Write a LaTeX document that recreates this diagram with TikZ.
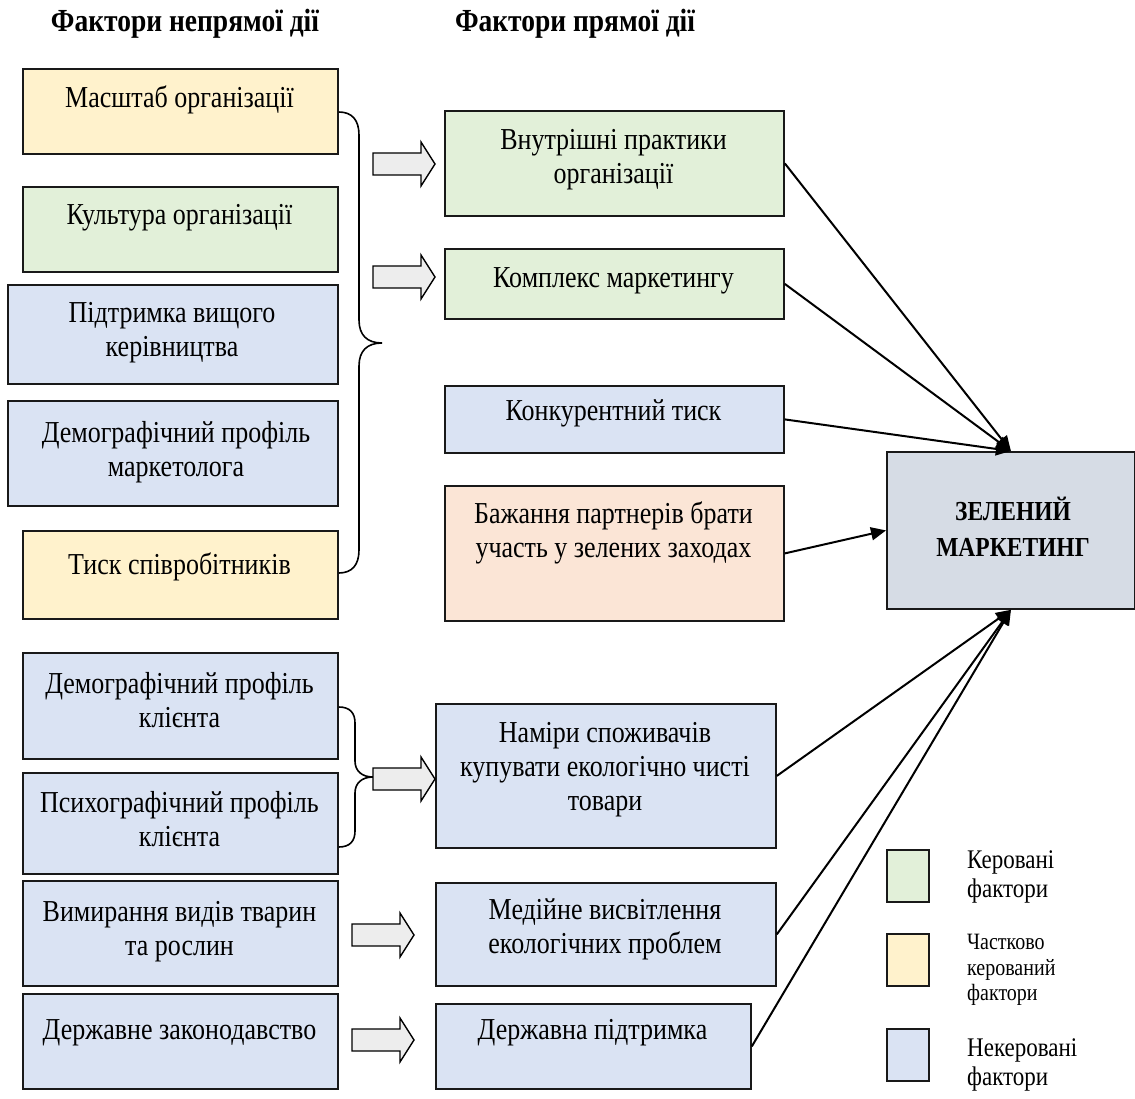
\documentclass[tikz,border=0pt]{standalone}
\usepackage{fontspec}
\usepackage{graphicx}
\setmainfont{Liberation Serif}
\usetikzlibrary{arrows.meta,calc}
\definecolor{yel}{HTML}{FFF2CC}
\definecolor{grn}{HTML}{E2F0D9}
\definecolor{blu}{HTML}{DAE3F3}
\definecolor{pch}{HTML}{FBE5D6}
\definecolor{gry}{HTML}{D6DCE5}
\definecolor{arrfill}{HTML}{EDEDED}
% tall, narrow lettering: centred and left-aligned line stacks
\newcommand\tallC[1]{\scalebox{1}[1.17]{\begin{tabular}{@{}c@{}}#1\end{tabular}}}
\newcommand\tallL[1]{\scalebox{1}[1.17]{\begin{tabular}{@{}l@{}}#1\end{tabular}}}
\begin{document}
\begin{tikzpicture}[x=1pt,y=-1pt,
  box/.style={draw=black!90, line width=1.8pt, rectangle, inner sep=0pt, anchor=north west},
  txt/.style={inner sep=0pt, font=\fontsize{26}{29}\selectfont},
  hdr/.style={inner sep=0pt, font=\fontsize{27.5}{30}\selectfont\bfseries},
  legtxt/.style={anchor=west, inner sep=0pt, font=\fontsize{23}{25}\selectfont},
  conn/.style={line width=2pt, -{Triangle[length=15pt,width=13pt]}},
  bracket/.style={line width=1.6pt},
  blockarrow/.style={draw=black, fill=arrfill, line width=1.4pt, line join=miter},
  pics/blockarr/.style={code={
    \draw[blockarrow] (0,-11) -- (48,-11) -- (48,-22) -- (62,0) -- (48,22) -- (48,11) -- (0,11) -- cycle;}}
]
\useasboundingbox (0,0) rectangle (1135,1099);

% column headings
\node[hdr] (h1) at (185,24) {\tallC{Фактори непрямої дії}};
\node[hdr] (h2) at (575,24) {\tallC{Фактори прямої дії}};

% indirect factors, upper group
\node[box, fill=yel, minimum width=315pt, minimum height=85pt] (a1) at (22,68) {};
\node[txt] (a1t) at (179.5,101) {\tallC{Масштаб організації}};
\node[box, fill=grn, minimum width=315pt, minimum height=85pt] (a2) at (22,186) {};
\node[txt] (a2t) at (179.5,218) {\tallC{Культура організації}};
\node[box, fill=blu, minimum width=330pt, minimum height=99pt] (a3) at (7,284) {};
\node[txt] (a3t) at (172,333) {\tallC{Підтримка вищого\\керівництва}};
\node[box, fill=blu, minimum width=330pt, minimum height=105pt] (a4) at (7,400) {};
\node[txt] (a4t) at (176,453) {\tallC{Демографічний профіль\\маркетолога}};
\node[box, fill=yel, minimum width=315pt, minimum height=88pt] (a5) at (22,530) {};
\node[txt] (a5t) at (179.5,568) {\tallC{Тиск співробітників}};

% indirect factors, lower group
\node[box, fill=blu, minimum width=315pt, minimum height=106pt] (b1) at (22,652) {};
\node[txt] (b1t) at (179.5,704) {\tallC{Демографічний профіль\\клієнта}};
\node[box, fill=blu, minimum width=315pt, minimum height=101pt] (b2) at (22,772) {};
\node[txt] (b2t) at (179.5,823) {\tallC{Психографічний профіль\\клієнта}};
\node[box, fill=blu, minimum width=315pt, minimum height=105pt] (b3) at (22,880) {};
\node[txt] (b3t) at (179.5,932) {\tallC{Вимирання видів тварин\\та рослин}};
\node[box, fill=blu, minimum width=315pt, minimum height=95pt] (b4) at (22,993) {};
\node[txt] (b4t) at (179.5,1033) {\tallC{Державне законодавство}};

% direct factors
\node[box, fill=grn, minimum width=339pt, minimum height=105pt] (c1) at (444,110) {};
\node[txt] (c1t) at (613.5,160) {\tallC{Внутрішні практики\\організації}};
\node[box, fill=grn, minimum width=339pt, minimum height=70pt] (c2) at (444,248) {};
\node[txt] (c2t) at (613.5,281) {\tallC{Комплекс маркетингу}};
\node[box, fill=blu, minimum width=339pt, minimum height=67pt] (c3) at (444,385) {};
\node[txt] (c3t) at (613.5,414) {\tallC{Конкурентний тиск}};
\node[box, fill=pch, minimum width=339pt, minimum height=135pt] (c4) at (444,485) {};
\node[txt] (c4t) at (613.5,534) {\tallC{Бажання партнерів брати\\участь у зелених заходах}};
\node[box, fill=blu, minimum width=340pt, minimum height=144pt] (d1) at (435,703) {};
\node[txt] (d1t) at (605,770) {\tallC{Наміри споживачів\\купувати екологічно чисті\\товари}};
\node[box, fill=blu, minimum width=340pt, minimum height=103pt] (d2) at (435,882) {};
\node[txt] (d2t) at (605,930) {\tallC{Медійне висвітлення\\екологічних проблем}};
\node[box, fill=blu, minimum width=315pt, minimum height=85pt] (d3) at (435,1003) {};
\node[txt] (d3t) at (592.5,1033) {\tallC{Державна підтримка}};

% result
\node[box, fill=gry, minimum width=248pt, minimum height=157pt] (g) at (886,451) {};
\node[txt, font=\fontsize{23.5}{31}\selectfont\bfseries] (gt) at (1013,531) {\tallC{ЗЕЛЕНИЙ\\МАРКЕТИНГ}};

% brackets grouping indirect factors
\draw[bracket] (a1.east |- 0,112) .. controls (352,112) and (359,120) .. (359,135) -- (359,320)
  .. controls (359,335) and (367,343) .. (382,343)
  .. controls (367,343) and (359,351) .. (359,366) -- (359,550)
  .. controls (359,565) and (352,573) .. (a5.east |- 0,573);
\draw[bracket] (b1.east |- 0,707) .. controls (350,707) and (355,713) .. (355,723) -- (355,761)
  .. controls (355,771) and (362,777) .. (373,777)
  .. controls (362,777) and (355,783) .. (355,793) -- (355,831)
  .. controls (355,841) and (350,847) .. (b2.east |- 0,847);

% block arrows
\pic at (373,164) {blockarr};
\pic at (373,277) {blockarr};
\pic at (373,779) {blockarr};
\pic at (352,935) {blockarr};
\pic at (352,1040) {blockarr};

% influences on green marketing
\draw[conn] (c1.east) -- (g.north);
\draw[conn] (c2.east) -- (g.north);
\draw[conn] (c3.east) -- (g.north);
\draw[conn] (c4.east) -- (g.west);
\draw[conn] (d1.east) -- (g.south);
\draw[conn] (d2.east) -- (g.south);
\draw[conn] (d3.east) -- (g.south);

% legend
\node[box, fill=grn, minimum width=42pt, minimum height=52pt] (k1) at (886,849) {};
\node[legtxt] (k1t) at (967,877) {\tallL{Керовані\\фактори}};
\node[box, fill=yel, minimum width=42pt, minimum height=52pt] (k2) at (886,933) {};
\node[legtxt, font=\fontsize{20}{22}\selectfont] (k2t) at (967,970) {\tallL{Частково\\керований\\фактори}};
\node[box, fill=blu, minimum width=42pt, minimum height=52pt] (k3) at (886,1028) {};
\node[legtxt] (k3t) at (967,1065) {\tallL{Некеровані\\фактори}};
\end{tikzpicture}
\end{document}
